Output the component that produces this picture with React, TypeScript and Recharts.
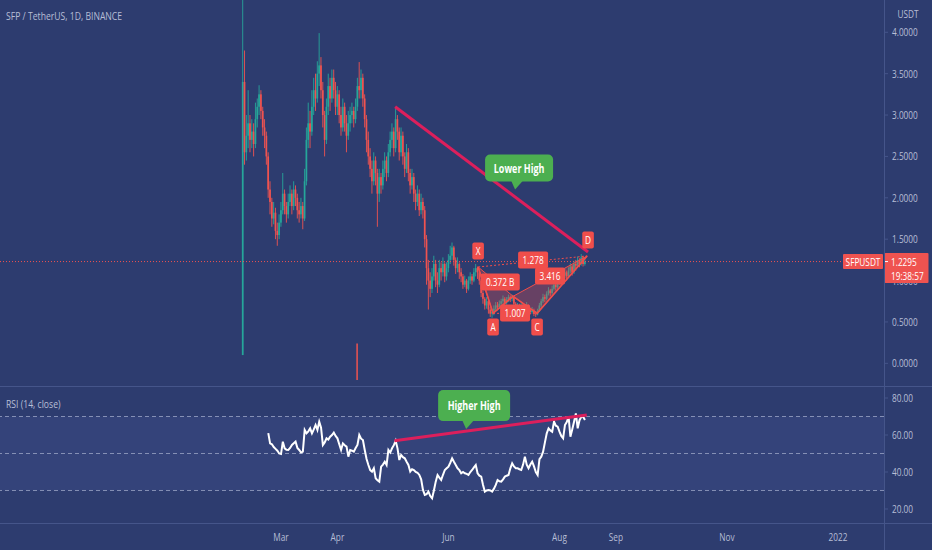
import React from 'react';
import {
  ComposedChart, Bar, Line, Area, XAxis, YAxis,
  ReferenceLine, ReferenceArea, ReferenceDot,
} from 'recharts';

// day numbers count from 1 Feb 2021
const firstCandleDay = 7;
const firstOpen = 0.1;

const closes = [
  3.40, 2.55, 2.75, 2.90, 2.70, 2.80, 2.65, 2.95, 3.10, 3.25,
  3.05, 2.85, 2.75, 2.50, 2.10, 1.95, 1.75, 1.82, 1.60, 1.55,
  1.70, 1.85, 2.05, 1.90, 1.80, 1.95, 2.05, 1.90, 2.10, 2.00,
  1.85, 1.80, 1.90, 1.75, 2.20, 2.70, 2.90, 2.80, 3.10, 3.30,
  3.20, 3.50, 3.60, 3.30, 3.00, 2.70, 3.10, 3.35, 3.20, 3.45,
  3.30, 3.10, 3.25, 3.00, 2.85, 3.10, 2.90, 2.75, 2.90, 3.00,
  3.05, 2.95, 3.10, 3.35, 3.30, 3.45, 3.20, 2.95, 2.70, 2.50,
  2.35, 2.20, 2.45, 2.30, 2.05, 2.25, 2.15, 2.35, 2.45, 2.30,
  2.55, 2.70, 2.80, 2.60, 2.95, 2.80, 2.55, 2.75, 2.50, 2.35,
  2.55, 2.30, 2.15, 2.25, 2.05, 1.95, 2.05, 1.85, 1.95, 1.85,
  1.50, 1.15, 1.00, 0.90, 1.05, 1.20, 1.00, 0.95, 1.15, 1.10,
  1.20, 1.05, 1.15, 1.25, 1.30, 1.40, 1.25, 1.15, 1.20, 1.10,
  1.05, 0.95, 1.00, 0.90, 1.00, 1.05, 1.00, 1.10, 1.15, 1.10,
  1.00, 0.85, 0.78, 0.70, 0.75, 0.65, 0.60, 0.62, 0.66, 0.70,
  0.68, 0.72, 0.75, 0.78, 0.73, 0.77, 0.80, 0.78, 0.80, 0.72,
  0.68, 0.70, 0.66, 0.70, 0.64, 0.66, 0.70, 0.65, 0.62, 0.64,
  0.60, 0.59, 0.63, 0.70, 0.75, 0.80, 0.78, 0.84, 0.88, 0.85,
  0.90, 0.95, 0.92, 0.97, 1.02, 0.98, 1.06, 1.10, 1.05, 1.12,
  1.17, 1.10, 1.20, 1.18, 1.25, 1.20, 1.28, 1.20, 1.2295,
];

const highs = [
  4.50, 3.78, 3.00, 3.30, 3.00, 2.95, 2.90, 3.15, 3.20, 3.36,
  3.30, 3.10, 2.95, 2.80, 2.55, 2.20, 2.00, 1.95, 1.88, 1.70,
  1.80, 1.95, 2.30, 2.10, 1.95, 2.05, 2.15, 2.10, 2.20, 2.15,
  2.05, 1.95, 2.00, 1.95, 2.35, 2.85, 3.15, 3.05, 3.30, 3.45,
  3.50, 3.65, 3.99, 3.70, 3.40, 3.05, 3.20, 3.50, 3.45, 3.55,
  3.55, 3.40, 3.35, 3.30, 3.10, 3.20, 3.15, 3.00, 3.05, 3.10,
  3.15, 3.10, 3.20, 3.45, 3.64, 3.55, 3.50, 3.25, 3.00, 2.80,
  2.60, 2.45, 2.55, 2.50, 2.35, 2.35, 2.30, 2.45, 2.55, 2.50,
  2.65, 2.80, 2.90, 2.85, 3.08, 3.00, 2.85, 2.85, 2.80, 2.55,
  2.65, 2.60, 2.35, 2.35, 2.30, 2.10, 2.15, 2.10, 2.05, 2.00,
  1.90, 1.55, 1.25, 1.10, 1.15, 1.30, 1.25, 1.10, 1.25, 1.22,
  1.28, 1.22, 1.22, 1.32, 1.42, 1.46, 1.42, 1.28, 1.28, 1.22,
  1.15, 1.08, 1.06, 1.02, 1.05, 1.10, 1.08, 1.15, 1.20, 1.17,
  1.12, 1.02, 0.88, 0.80, 0.80, 0.77, 0.68, 0.66, 0.70, 0.74,
  0.74, 0.76, 0.78, 0.82, 0.80, 0.80, 0.83, 0.82, 0.83, 0.81,
  0.74, 0.73, 0.72, 0.73, 0.72, 0.70, 0.74, 0.71, 0.67, 0.68,
  0.66, 0.63, 0.66, 0.73, 0.78, 0.84, 0.83, 0.87, 0.92, 0.90,
  0.94, 0.99, 0.97, 1.00, 1.06, 1.04, 1.10, 1.15, 1.12, 1.16,
  1.21, 1.19, 1.24, 1.25, 1.29, 1.27, 1.32, 1.30, 1.26,
];

const lows = [
  0.10, 2.40, 2.45, 2.60, 2.55, 2.60, 2.50, 2.60, 2.85, 3.00,
  2.95, 2.75, 2.60, 2.40, 2.00, 1.80, 1.65, 1.68, 1.50, 1.42,
  1.50, 1.65, 1.80, 1.80, 1.70, 1.75, 1.90, 1.80, 1.85, 1.90,
  1.75, 1.70, 1.75, 1.62, 1.72, 2.15, 2.60, 2.60, 2.75, 3.00,
  3.05, 3.15, 3.35, 3.20, 2.85, 2.50, 2.65, 3.00, 3.05, 3.15,
  3.20, 3.00, 3.00, 2.90, 2.75, 2.80, 2.80, 2.55, 2.70, 2.80,
  2.90, 2.85, 2.90, 3.05, 3.20, 3.20, 3.10, 2.85, 2.55, 2.40,
  2.25, 2.05, 2.15, 2.15, 1.65, 1.95, 2.05, 2.10, 2.25, 2.20,
  2.25, 2.50, 2.60, 2.50, 2.55, 2.70, 2.45, 2.50, 2.40, 2.25,
  2.30, 2.20, 2.05, 2.10, 1.95, 1.85, 1.90, 1.78, 1.80, 1.75,
  1.40, 0.95, 0.65, 0.80, 0.85, 1.00, 0.92, 0.85, 0.92, 1.00,
  1.05, 0.98, 1.00, 1.10, 1.20, 1.25, 1.18, 1.08, 1.10, 1.02,
  0.98, 0.90, 0.92, 0.85, 0.88, 0.96, 0.95, 0.98, 1.05, 1.02,
  0.95, 0.80, 0.72, 0.65, 0.66, 0.60, 0.56, 0.55, 0.58, 0.63,
  0.64, 0.66, 0.69, 0.72, 0.70, 0.71, 0.74, 0.74, 0.75, 0.69,
  0.64, 0.65, 0.63, 0.64, 0.61, 0.62, 0.64, 0.62, 0.59, 0.60,
  0.57, 0.56, 0.58, 0.62, 0.68, 0.73, 0.74, 0.76, 0.82, 0.81,
  0.83, 0.88, 0.88, 0.90, 0.95, 0.94, 0.96, 1.03, 1.00, 1.03,
  1.09, 1.06, 1.08, 1.12, 1.15, 1.16, 1.18, 1.17, 1.18,
];

const rsiFirstDay = 21;
const rsiValues = [
  61, 55.5, 55, 53.5, 52.5, 51.5, 50, 49.7, 56.4, 52.8,
  52, 51.9, 53, 54.6, 55.5, 56.4, 53, 51.9, 50.5, 51,
  62.7, 60.9, 62, 63.6, 60.9, 63, 65.4, 62.7, 67.2, 64,
  54.6, 56, 58.2, 57.5, 59.1, 60, 61.3, 59.5, 58.2, 55,
  51.9, 55.5, 54.5, 53.7, 48.3, 51.9, 51.5, 51, 53, 54.6,
  60, 58, 57.3, 51.9, 47, 43.8, 41, 40.2, 42, 36.6,
  35.5, 34.8, 42.9, 44, 45.6, 43.8, 51.9, 50.5, 52.8, 54.5,
  56.9, 52.8, 46.5, 49.2, 48, 47.4, 45.5, 43.8, 40.2, 41.5,
  41.1, 40, 39.6, 38.4, 36, 30.3, 27.6, 28, 29.4, 27,
  25.8, 30, 34.8, 38.4, 37, 35.7, 38.5, 41.1, 42, 42.9,
  45, 47.4, 45.5, 43.8, 42, 41, 39.3, 40, 39.3, 39,
  38.4, 40, 41.1, 42.5, 43.8, 39.3, 38, 37.5, 33, 29.4,
  30, 30.3, 30, 29.4, 31, 33, 35.7, 35, 34.8, 36,
  37.5, 38, 38.4, 42, 44.7, 43, 42, 42, 41.5, 41.1,
  44, 48.3, 44, 42, 44, 45.6, 43, 40, 38.4, 47,
  48.3, 51, 56, 60.9, 63.6, 62.5, 61.8, 67.2, 65, 64.5,
  61.8, 59.5, 58.2, 65.4, 67, 69.9, 59.1, 63, 67.2, 71.7,
  63.6, 68, 69.9, 69.9, 68.1,
];

const monthTicks = [28, 59, 120, 181, 212, 273, 334];
const monthNames = ['Mar', 'Apr', 'Jun', 'Aug', 'Sep', 'Nov', '2022'];
const priceTicks = [0, 0.5, 1, 1.5, 2, 2.5, 3, 3.5, 4];
const rsiTicks = [20, 40, 60, 80];
const rsiLevels = [70, 50, 30];
const lastPrice = 1.2295;

// drawn trend lines (day, value)
const lowerHigh = [{ x: 90.7, y: 3.1 }, { x: 196.7, y: 1.345 }];
const higherHigh = [{ x: 90.3, y: 56.9 }, { x: 196, y: 70.8 }];
const strayMark = [{ x: 69.8, y: -0.2 }, { x: 69.8, y: 0.24 }];

// XABCD pattern points
const pattern = [
  { name: 'X', d: 136.3, v: 1.164 },
  { name: 'A', d: 144.5, v: 0.604 },
  { name: 'B', d: 155.5, v: 0.81 },
  { name: 'C', d: 168.7, v: 0.604 },
  { name: 'D', d: 196.2, v: 1.297 },
];
const patternLabels = [
  { text: 'X', d: 136.3, v: 1.357 },
  { text: 'A', d: 144.5, v: 0.439 },
  { text: 'C', d: 168.7, v: 0.439 },
  { text: 'D', d: 196.7, v: 1.49 },
  { text: '0.372 B', d: 148.4, v: 0.982 },
  { text: '1.007', d: 156.6, v: 0.608 },
  { text: '1.278', d: 166.5, v: 1.248 },
  { text: '3.416', d: 175.8, v: 1.055 },
];

const W = 932;
const H = 550;
const PRICE_H = 387;
const X_DOMAIN = [-126.4, 359.3];
const PRICE_DOMAIN = [-0.286, 4.39];
const RSI_DOMAIN = [12.43, 85.95];

const BG = '#2d3c6f';
const FRAME = '#45558a';
const AXIS_TEXT = '#b7bed6';
const UP = '#26a69a';
const DOWN = '#ef5350';
const PATTERN_RED = '#f04e4b';
const CRIMSON = '#dc1f5c';
const GREEN = '#4caf50';

const candles = closes.map((c, i) => ({
  d: firstCandleDay + i,
  open: i === 0 ? firstOpen : closes[i - 1],
  close: c,
  high: highs[i],
  low: lows[i],
}));

const rsiRows = rsiValues.map((v, i) => ({ d: rsiFirstDay + i, rsi: v }));

const along = (p, q, d) => p.v + ((q.v - p.v) * (d - p.d)) / (q.d - p.d);
const [pX, pA, pB, pC, pD] = pattern;
const xabFill = [
  { d: pX.d, band: [pX.v, pX.v] },
  { d: pA.d, band: [pA.v, along(pX, pB, pA.d)] },
  { d: pB.d, band: [pB.v, pB.v] },
];
const bcdFill = [
  { d: pB.d, band: [pB.v, pB.v] },
  { d: pC.d, band: [pC.v, along(pB, pD, pC.d)] },
  { d: pD.d, band: [pD.v, pD.v] },
];

function NText({ x, y, children, size = 11, fill = AXIS_TEXT, anchor = 'start', weight = 400 }) {
  return (
    <text
      transform={`translate(${x} ${y}) scale(0.75 1)`}
      fontSize={size}
      fill={fill}
      textAnchor={anchor}
      fontWeight={weight}
      fontFamily="'Open Sans', sans-serif"
      dominantBaseline="central"
    >
      {children}
    </text>
  );
}

function Candle(props) {
  const { x, y, width, height, payload } = props;
  const { open, close, high, low } = payload;
  const top = Math.min(y, y + height);
  const h = Math.abs(height);
  const cx = x + width / 2;
  const span = high - low || 1;
  const yOf = (v) => top + (h * (high - v)) / span;
  const color = close >= open ? UP : DOWN;
  const bodyTop = yOf(Math.max(open, close));
  const bodyBottom = yOf(Math.min(open, close));
  return (
    <g>
      <line x1={cx} x2={cx} y1={top} y2={top + h} stroke={color} strokeWidth={0.9} />
      <rect x={cx - 0.85} y={bodyTop} width={1.7} height={Math.max(bodyBottom - bodyTop, 0.8)} fill={color} />
    </g>
  );
}

const priceTick = (p) => <NText x={p.x} y={p.y}>{p.payload.value.toFixed(4)}</NText>;
const rsiTick = (p) => <NText x={p.x} y={p.y}>{p.payload.value.toFixed(2)}</NText>;
const monthTick = (p) => (
  <NText x={p.x} y={p.y + 14} anchor="middle">
    {monthNames[monthTicks.indexOf(p.payload.value)]}
  </NText>
);

function PatternTag({ cx, cy, text }) {
  const w = text.length * 4.6 + 7;
  return (
    <g>
      <rect x={cx - w / 2} y={cy - 8.5} width={w} height={17} rx={2} fill={PATTERN_RED} />
      <NText x={cx} y={cy} anchor="middle" fill="#ffffff">{text}</NText>
    </g>
  );
}

function Callout({ cx, cy, w, h, text, tip }) {
  const bottom = cy + h / 2;
  return (
    <g>
      <rect x={cx - w / 2} y={cy - h / 2} width={w} height={h} rx={5} fill={GREEN} />
      <path
        d={`M${cx + tip - 6} ${bottom - 1} L${cx + tip + 6} ${bottom - 1} L${cx + tip - 2} ${bottom + 8} Z`}
        fill={GREEN}
      />
      <NText x={cx} y={cy} anchor="middle" size={12} weight={700} fill="#ffffff">{text}</NText>
    </g>
  );
}

function PriceTag({ cx, cy }) {
  return (
    <g>
      <rect x={cx - 41} y={cy - 7.5} width={40} height={15} rx={1} fill={DOWN} />
      <NText x={cx - 21} y={cy} anchor="middle" fill="#ffffff">SFPUSDT</NText>
      <rect x={cx + 0.5} y={cy - 8.5} width={44} height={30} rx={1} fill={DOWN} />
      <line x1={cx} x2={cx + 4} y1={cy} y2={cy} stroke="#ffffff" />
      <NText x={cx + 7} y={cy + 0.5} fill="#ffffff">{lastPrice.toFixed(4)}</NText>
      <NText x={cx + 7} y={cy + 14} fill="#ffffff">19:38:57</NText>
    </g>
  );
}

export default function App() {
  return (
    <div style={{ position: 'fixed', left: 0, top: 0, width: W, height: H, background: BG, overflow: 'hidden' }}>
      <div style={{ position: 'absolute', left: 0, top: 0 }}>
        <ComposedChart width={W} height={PRICE_H} data={candles} margin={{ top: 0, right: 0, bottom: 0, left: 0 }}>
          <XAxis type="number" dataKey="d" domain={X_DOMAIN} allowDataOverflow hide />
          <YAxis
            orientation="right" width={48} domain={PRICE_DOMAIN} allowDataOverflow
            ticks={priceTicks} interval={0} tick={priceTick}
            tickSize={4} tickMargin={4} tickLine={{ stroke: FRAME }} axisLine={false}
          />
          <Bar dataKey={(r) => [r.low, r.high]} shape={Candle} barSize={2} isAnimationActive={false} />
        </ComposedChart>
      </div>

      <div style={{ position: 'absolute', left: 0, top: 0 }}>
        <ComposedChart width={W} height={PRICE_H} margin={{ top: 0, right: 48, bottom: 0, left: 0 }}>
          <XAxis type="number" dataKey="d" domain={X_DOMAIN} allowDataOverflow hide />
          <YAxis type="number" domain={PRICE_DOMAIN} allowDataOverflow hide />
          <ReferenceLine y={lastPrice} stroke={DOWN} strokeDasharray="1 2" strokeWidth={1} />
          <ReferenceLine segment={strayMark} stroke={DOWN} strokeWidth={1.5} ifOverflow="visible" />
          <Area data={xabFill} dataKey="band" type="linear" fill={PATTERN_RED} fillOpacity={0.3}
            stroke={PATTERN_RED} strokeWidth={1} dot={false} activeDot={false} isAnimationActive={false} />
          <Area data={bcdFill} dataKey="band" type="linear" fill={PATTERN_RED} fillOpacity={0.3}
            stroke={PATTERN_RED} strokeWidth={1} dot={false} activeDot={false} isAnimationActive={false} />
          <ReferenceLine segment={[{ x: pX.d, y: pX.v }, { x: pD.d, y: pD.v }]} stroke={PATTERN_RED}
            strokeDasharray="2 2" strokeWidth={1} ifOverflow="visible" />
          <ReferenceLine segment={[{ x: pA.d, y: pA.v }, { x: pC.d, y: pC.v }]} stroke={PATTERN_RED}
            strokeDasharray="2 2" strokeWidth={1} ifOverflow="visible" />
          <Line data={pattern} dataKey="v" type="linear" stroke={PATTERN_RED} strokeWidth={1.6}
            dot={false} activeDot={false} isAnimationActive={false} />
          <ReferenceLine segment={lowerHigh} stroke={CRIMSON} strokeWidth={3} ifOverflow="visible" />
          {patternLabels.map((l) => (
            <ReferenceDot key={l.text} x={l.d} y={l.v} ifOverflow="visible"
              shape={(p) => <PatternTag cx={p.cx} cy={p.cy} text={l.text} />} />
          ))}
          <ReferenceDot x={158.8} y={2.36} ifOverflow="visible"
            shape={(p) => <Callout cx={p.cx} cy={p.cy} w={68} h={27} tip={-2} text="Lower High" />} />
          <ReferenceDot x={X_DOMAIN[1]} y={lastPrice} ifOverflow="visible"
            shape={(p) => <PriceTag cx={p.cx} cy={p.cy} />} />
        </ComposedChart>
      </div>

      <div style={{ position: 'absolute', left: 0, top: PRICE_H }}>
        <ComposedChart width={W} height={H - PRICE_H} data={rsiRows} margin={{ top: 0, right: 0, bottom: 0, left: 0 }}>
          <XAxis
            type="number" dataKey="d" domain={X_DOMAIN} allowDataOverflow
            ticks={monthTicks} interval={0} tick={monthTick}
            tickLine={false} axisLine={false} tickSize={0} tickMargin={0} height={27}
          />
          <YAxis
            orientation="right" width={48} domain={RSI_DOMAIN} allowDataOverflow
            ticks={rsiTicks} interval={0} tick={rsiTick}
            tickSize={4} tickMargin={4} tickLine={{ stroke: FRAME }} axisLine={false}
          />
          <ReferenceArea y1={30} y2={70} fill="#6b7fd0" fillOpacity={0.12} stroke="none" />
          {rsiLevels.map((lv) => (
            <ReferenceLine key={lv} y={lv} stroke="#8590b5" strokeDasharray="4 3" strokeWidth={1} />
          ))}
          <Line dataKey="rsi" type="linear" stroke="#ffffff" strokeWidth={2} dot={false} activeDot={false}
            isAnimationActive={false} />
          <ReferenceLine segment={higherHigh} stroke={CRIMSON} strokeWidth={3} ifOverflow="visible" />
          <ReferenceDot x={134.1} y={75.9} ifOverflow="visible"
            shape={(p) => <Callout cx={p.cx} cy={p.cy} w={72} h={31} tip={-6} text="Higher High" />} />
        </ComposedChart>
      </div>

      <svg width={W} height={H} style={{ position: 'absolute', left: 0, top: 0, pointerEvents: 'none' }}>
        <line x1={0} x2={W} y1={386.5} y2={386.5} stroke={FRAME} />
        <line x1={0} x2={W} y1={523.5} y2={523.5} stroke={FRAME} />
        <line x1={884.5} x2={884.5} y1={0} y2={H} stroke={FRAME} />
        <NText x={6} y={15} size={11.5}>SFP / TetherUS, 1D, BINANCE</NText>
        <NText x={908} y={14} anchor="middle">USDT</NText>
        <NText x={6} y={403.5} size={11.5}>RSI (14, close)</NText>
      </svg>
    </div>
  );
}
